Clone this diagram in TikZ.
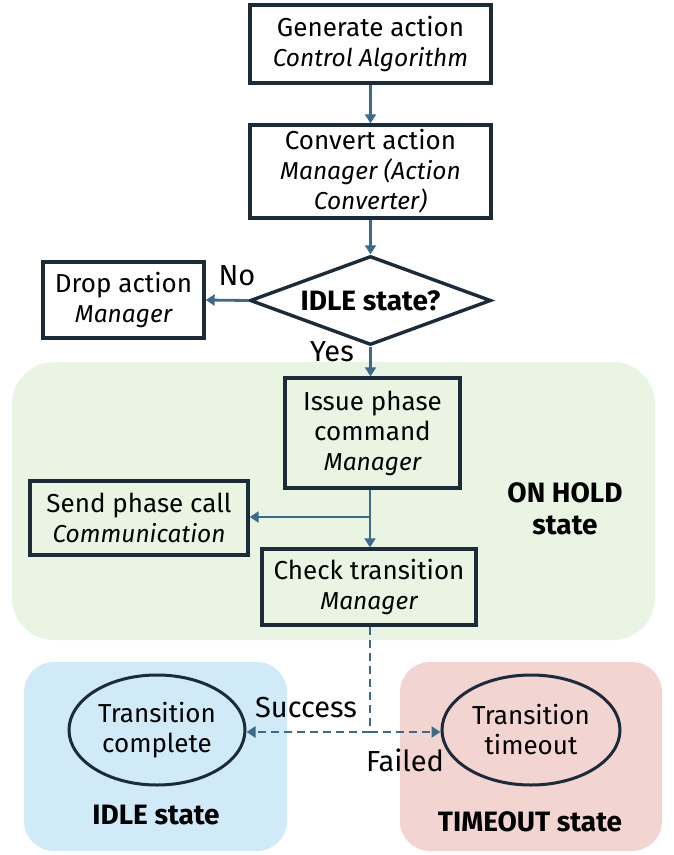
\documentclass[tikz,border=0pt]{standalone}
\usepackage{fontspec}
\setmainfont{Fira Sans}
\usetikzlibrary{arrows.meta,shapes.geometric}
\definecolor{arr}{HTML}{3B6A8C}
\definecolor{edge}{HTML}{1C2B3A}
\definecolor{gfill}{HTML}{E9F5E2}
\definecolor{bfill}{HTML}{D0EAF7}
\definecolor{rfill}{HTML}{F2D4D1}
\tikzset{
  x=1pt,y=-1pt,
  every node/.style={font=\fontsize{26}{30}\selectfont},
  stepbox/.style={draw=edge,line width=3.4pt,rectangle,align=center,inner sep=0pt},
  decide/.style={draw=edge,line width=3.4pt,diamond,inner sep=0pt,aspect=2.7,font=\fontsize{28}{30}\selectfont\bfseries},
  endstate/.style={draw=edge,line width=3pt,ellipse,align=center,inner sep=0pt},
  flow/.style={draw=arr,line width=2.8pt,-{Triangle[length=9pt,width=11pt]}},
  dflow/.style={draw=arr,line width=2.8pt,dash pattern=on 8pt off 5pt},
  lbl/.style={font=\fontsize{29}{32}\selectfont},
  region/.style={font=\fontsize{28}{32}\selectfont\bfseries,align=center},
}
\newcommand{\sub}[1]{{\itshape\fontsize{24.5}{30}\selectfont #1}}
\begin{document}
\begin{tikzpicture}
\useasboundingbox (0,0) rectangle (673,855);
% regions
\fill[gfill] (12,362) [rounded corners=42pt] rectangle (655,640);
\fill[bfill] (24,662) [rounded corners=30pt] rectangle (287,851);
\fill[rfill] (400,662) [rounded corners=30pt] rectangle (662,851);
% nodes
\node[stepbox,minimum width=241pt,minimum height=78pt] (gen) at (370.5,44) {Generate action\\\sub{Control Algorithm}};
\node[stepbox,minimum width=241pt,minimum height=93pt] (conv) at (370.5,171.5) {Convert action\\\sub{Manager (Action}\\\sub{Converter)}};
\node[decide,minimum width=241pt,minimum height=89pt] (idle) at (370.5,300.5) {IDLE state?};
\node[stepbox,minimum width=161pt,minimum height=76pt] (drop) at (123.5,300) {Drop action\\\sub{Manager}};
\node[stepbox,minimum width=175pt,minimum height=110pt] (issue) at (372.5,433) {Issue phase\\command\\\sub{Manager}};
\node[stepbox,minimum width=218pt,minimum height=74pt] (send) at (139,518) {Send phase call\\\sub{Communication}};
\node[stepbox,minimum width=214pt,minimum height=76pt] (check) at (369,587) {Check transition\\\sub{Manager}};
\node[endstate,minimum width=176pt,minimum height=110pt] (done) at (157,730) {Transition\\complete};
\node[endstate,minimum width=178pt,minimum height=110pt] (tout) at (531,730) {Transition\\timeout};
% labels
\node[lbl] (no) at (237,276) {No};
\node[lbl] (yes) at (332,352) {Yes};
\node[lbl] (succ) at (306,708) {Success};
\node[lbl] (fail) at (405,760) {Failed};
\node[region] (onhold) at (565,509) {ON HOLD\\state};
\node[region] (idlel) at (156,815) {IDLE state};
\node[region] (toutl) at (530,822) {TIMEOUT state};
% connectors
\draw[flow] (gen.south) -- (conv.north);
\draw[flow] (conv.south) -- (idle.north);
\draw[flow] (idle.west) -- (drop.east);
\draw[flow] (idle.south) -- (idle.south |- issue.north);
\coordinate (br) at (370,517);
\draw[flow] (issue.south -| br) -- (check.north -| br);
\draw[flow] (br) -- (send.east |- br);
\coordinate (split) at (370,732);
\draw[dflow] (check.south -| split) -- (split);
\draw[dflow,-{Triangle[length=9pt,width=11pt]}] (split) -- (done.east |- split);
\draw[dflow,-{Triangle[length=9pt,width=11pt]}] (split) -- (tout.west |- split);
\end{tikzpicture}
\end{document}
